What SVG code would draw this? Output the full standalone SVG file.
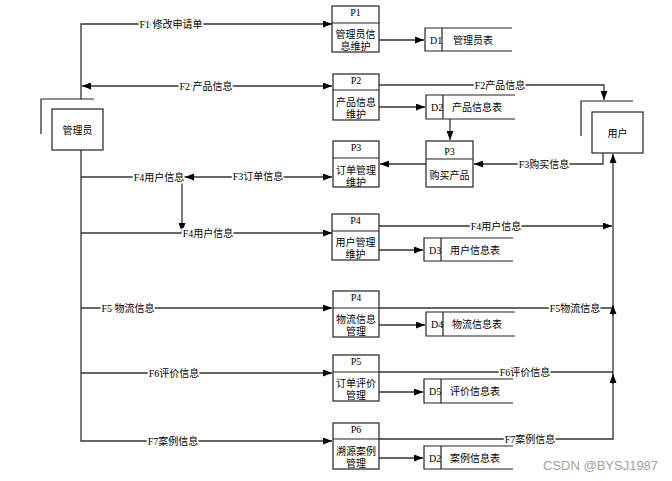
<svg xmlns="http://www.w3.org/2000/svg" width="672" height="481" viewBox="0 0 672 481">
<defs>
<marker id="ar" markerUnits="userSpaceOnUse" markerWidth="9" markerHeight="7" refX="9" refY="3.5" orient="auto-start-reverse"><path d="M0,0 L9,3.5 L0,7 z" fill="#000"/></marker>
<style>
.box{fill:#fff;stroke:#222;stroke-width:1.2}
.ln{fill:none;stroke:#222;stroke-width:1.2}
.cn{fill:none;stroke:#333;stroke-width:1.3}
.t{font-family:"Liberation Serif","Noto Sans CJK SC",serif;font-size:10px;fill:#000;text-anchor:middle}
.lbl{font-family:"Liberation Serif","Noto Sans CJK SC",serif;font-size:10px;fill:#000;text-anchor:middle;paint-order:stroke;stroke:#fff;stroke-width:4px;stroke-linejoin:round}
.st{font-family:"Liberation Serif","Noto Sans CJK SC",serif;font-size:10px;fill:#000}
</style>
</defs>
<rect width="672" height="481" fill="#fff"/>

<g id="connectors">
<path class="cn" d="M81,99 V24 H332" marker-end="url(#ar)"/>
<path class="cn" d="M82,86 H332" marker-start="url(#ar)" marker-end="url(#ar)"/>
<path class="cn" d="M81,150 V441 H332" marker-end="url(#ar)"/>
<path class="cn" d="M81,177 H185"/>
<path class="cn" d="M185,177 H332" marker-start="url(#ar)" marker-end="url(#ar)"/>
<path class="cn" d="M182,177 V232" marker-end="url(#ar)"/>
<path class="cn" d="M81,233 H332" marker-end="url(#ar)"/>
<path class="cn" d="M81,308 H332" marker-end="url(#ar)"/>
<path class="cn" d="M81,373 H332" marker-end="url(#ar)"/>
<path class="cn" d="M379,40 H424" marker-end="url(#ar)"/>
<path class="cn" d="M379,107 H425" marker-end="url(#ar)"/>
<path class="cn" d="M379,85 H604 V100" marker-end="url(#ar)"/>
<path class="cn" d="M450,119 V140" marker-end="url(#ar)"/>
<path class="cn" d="M603,153 V164 H474" marker-end="url(#ar)"/>
<path class="cn" d="M426,164 H380" marker-end="url(#ar)"/>
<path class="cn" d="M379,226 H612" marker-end="url(#ar)"/>
<path class="cn" d="M379,250 H423" marker-end="url(#ar)"/>
<path class="cn" d="M379,308 H613"/>
<path class="cn" d="M379,325 H425" marker-end="url(#ar)"/>
<path class="cn" d="M379,372 H613"/>
<path class="cn" d="M379,392 H423" marker-end="url(#ar)"/>
<path class="cn" d="M379,439 H613 V154" marker-end="url(#ar)"/>
<path class="cn" d="M613,316 V305" marker-end="url(#ar)"/>
<path class="cn" d="M613,384 V374" marker-end="url(#ar)"/>
<path class="cn" d="M379,458 H423" marker-end="url(#ar)"/>
<text class="lbl" x="171" y="27.5">F1 修改申请单</text>
<text class="lbl" x="206" y="89.5">F2 产品信息</text>
<text class="lbl" x="159" y="180.5">F4用户信息</text>
<text class="lbl" x="258" y="179.5">F3订单信息</text>
<text class="lbl" x="208" y="236.5">F4用户信息</text>
<text class="lbl" x="128" y="311.5">F5 物流信息</text>
<text class="lbl" x="174" y="376.5">F6评价信息</text>
<text class="lbl" x="173" y="444.5">F7案例信息</text>
<text class="lbl" x="500" y="88.5">F2产品信息</text>
<text class="lbl" x="544" y="167.5">F3购买信息</text>
<text class="lbl" x="496" y="229.5">F4用户信息</text>
<text class="lbl" x="575" y="311.5">F5物流信息</text>
<text class="lbl" x="525" y="375.5">F6评价信息</text>
<text class="lbl" x="530" y="442.5">F7案例信息</text>
</g>

<g id="admin">
<path class="ln" d="M41,134 V99 H94"/>
<rect class="box" x="52" y="109" width="51" height="41"/>
<text class="t" x="77.5" y="133.5">管理员</text>
</g>

<g id="user">
<path class="ln" d="M581,136 V101 H633"/>
<rect class="box" x="592" y="112" width="51" height="41"/>
<text class="t" x="617.5" y="136.5">用户</text>
</g>

<g id="P1">
<rect class="box" x="332" y="6" width="47" height="46"/>
<line class="ln" x1="332" y1="23" x2="379" y2="23"/>
<text class="t" x="355.5" y="16">P1</text>
<text class="t" x="355.5" y="38">管理员信</text>
<text class="t" x="355.5" y="50">息维护</text>
</g>

<g id="P2">
<rect class="box" x="333" y="74" width="46" height="46"/>
<line class="ln" x1="333" y1="90" x2="379" y2="90"/>
<text class="t" x="356" y="84">P2</text>
<text class="t" x="356" y="106">产品信息</text>
<text class="t" x="356" y="118">维护</text>
</g>

<g id="P3">
<rect class="box" x="333" y="141" width="46" height="46"/>
<line class="ln" x1="333" y1="158" x2="379" y2="158"/>
<text class="t" x="356" y="151">P3</text>
<text class="t" x="356" y="174">订单管理</text>
<text class="t" x="356" y="186">维护</text>
</g>

<g id="P3buy">
<rect class="box" x="426" y="141" width="47" height="46"/>
<line class="ln" x1="426" y1="159" x2="473" y2="159"/>
<text class="t" x="449.5" y="155">P3</text>
<text class="t" x="449.5" y="179">购买产品</text>
</g>

<g id="P4">
<rect class="box" x="332" y="214" width="47" height="46"/>
<line class="ln" x1="332" y1="231" x2="379" y2="231"/>
<text class="t" x="355.5" y="224">P4</text>
<text class="t" x="355.5" y="246">用户管理</text>
<text class="t" x="355.5" y="258">维护</text>
</g>

<g id="P4logistics">
<rect class="box" x="333" y="291" width="46" height="46"/>
<line class="ln" x1="333" y1="308" x2="379" y2="308"/>
<text class="t" x="356" y="301">P4</text>
<text class="t" x="356" y="323">物流信息</text>
<text class="t" x="356" y="335">管理</text>
</g>

<g id="P5">
<rect class="box" x="333" y="355" width="46" height="46"/>
<line class="ln" x1="333" y1="372" x2="379" y2="372"/>
<text class="t" x="356" y="365">P5</text>
<text class="t" x="356" y="387">订单评价</text>
<text class="t" x="356" y="399">管理</text>
</g>

<g id="P6">
<rect class="box" x="333" y="423" width="46" height="46"/>
<line class="ln" x1="333" y1="439" x2="379" y2="439"/>
<text class="t" x="356" y="433">P6</text>
<text class="t" x="356" y="455">溯源案例</text>
<text class="t" x="356" y="467">管理</text>
</g>

<g id="D1">
<path class="ln" d="M512,28 H425 V51 H512 M442,28 V51"/>
<text class="st" x="430" y="44">D1</text>
<text class="st" x="453" y="44">管理员表</text>
</g>

<g id="D2">
<path class="ln" d="M515,95 H426 V119 H515 M443,95 V119"/>
<text class="st" x="431" y="111">D2</text>
<text class="st" x="452" y="111">产品信息表</text>
</g>

<g id="D3">
<path class="ln" d="M513,238 H424 V261 H513 M441,238 V261"/>
<text class="st" x="429" y="254">D3</text>
<text class="st" x="450" y="254">用户信息表</text>
</g>

<g id="D4">
<path class="ln" d="M515,312 H426 V336 H515 M443,312 V336"/>
<text class="st" x="431" y="328">D4</text>
<text class="st" x="452" y="328">物流信息表</text>
</g>

<g id="D5">
<path class="ln" d="M513,379 H424 V403 H513 M441,379 V403"/>
<text class="st" x="429" y="395">D5</text>
<text class="st" x="450" y="395">评价信息表</text>
</g>

<g id="D2case">
<path class="ln" d="M513,446 H424 V469 H513 M441,446 V469"/>
<text class="st" x="429" y="462">D2</text>
<text class="st" x="450" y="462">案例信息表</text>
</g>

<text x="543" y="470" style="font-family:'Liberation Sans',sans-serif;font-size:13px;fill:#a0a0a0">CSDN @BYSJ1987</text>
</svg>
